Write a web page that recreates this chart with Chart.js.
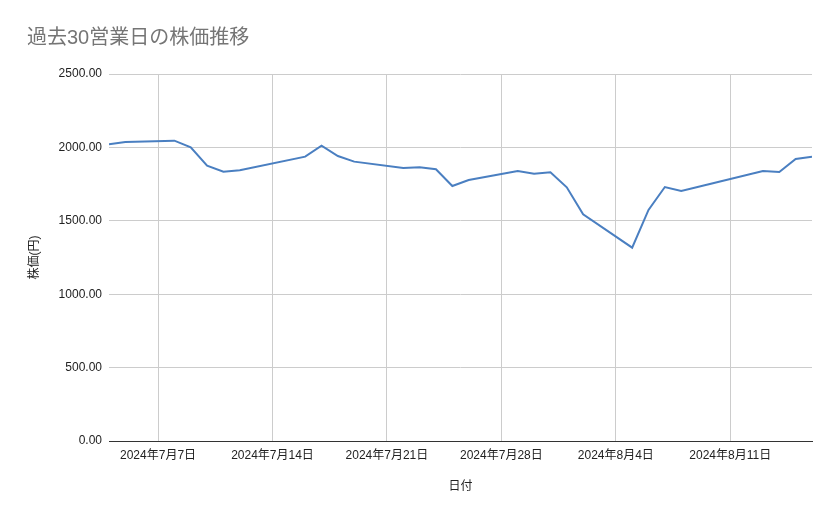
<!DOCTYPE html>
<html>
<head>
<meta charset="utf-8">
<script src="https://cdn.jsdelivr.net/npm/chart.js@4.4.1/dist/chart.umd.min.js"></script>
<style>
  html, body { margin: 0; padding: 0; background: #fff; }
  #wrap { width: 839px; height: 519px; }
</style>
</head>
<body>
<div id="wrap"><canvas id="priceChart" width="839" height="519"></canvas></div>
<script>
// trading days (weekends and JP holidays skipped)
const tradeDates = [
    '2024-07-04', '2024-07-05', '2024-07-08', '2024-07-09', '2024-07-10',
    '2024-07-11', '2024-07-12', '2024-07-16', '2024-07-17', '2024-07-18',
    '2024-07-19', '2024-07-22', '2024-07-23', '2024-07-24', '2024-07-25',
    '2024-07-26', '2024-07-29', '2024-07-30', '2024-07-31', '2024-08-01',
    '2024-08-02', '2024-08-05', '2024-08-06', '2024-08-07', '2024-08-08',
    '2024-08-09', '2024-08-13', '2024-08-14', '2024-08-15', '2024-08-16'
];
const closePrices = [
    2021, 2037, 2046, 2001, 1875,
    1835, 1844, 1937, 2012, 1941,
    1903, 1860, 1864, 1851, 1737,
    1778, 1839, 1821, 1830, 1728,
    1544, 1317, 1574, 1730, 1703,
    1730, 1839, 1832, 1921, 1937
];
const xTickDates = ['2024-07-07', '2024-07-14', '2024-07-21', '2024-07-28', '2024-08-04', '2024-08-11'];
const yTicks = [0, 500, 1000, 1500, 2000, 2500];

function dayNum(s) {
    const p = s.split('-').map(Number);
    return Date.UTC(p[0], p[1] - 1, p[2]) / 86400000;
}
function jpDate(n) {
    const d = new Date(n * 86400000);
    return d.getUTCFullYear() + '年' + (d.getUTCMonth() + 1) + '月' + d.getUTCDate() + '日';
}

const FONT = '"Liberation Sans", Arial, "Noto Sans CJK JP", sans-serif';
Chart.defaults.font.family = FONT;
Chart.defaults.color = '#222';

const points = tradeDates.map((d, i) => ({ x: dayNum(d), y: closePrices[i] }));

new Chart(document.getElementById('priceChart'), {
    type: 'line',
    data: {
        datasets: [{
            label: '株価',
            data: points,
            borderColor: '#4a7fc1',
            borderWidth: 2,
            pointRadius: 0,
            tension: 0,
            fill: false
        }]
    },
    options: {
        responsive: false,
        animation: false,
        devicePixelRatio: 1,
        layout: { padding: { left: 27, right: 27, top: 26, bottom: 21 } },
        plugins: {
            legend: { display: false },
            tooltip: { enabled: false },
            title: {
                display: true,
                text: '過去30営業日の株価推移',
                align: 'start',
                color: '#757575',
                font: { size: 20, weight: 'normal', family: FONT },
                padding: { top: 0, bottom: 24 }
            }
        },
        scales: {
            x: {
                type: 'linear',
                min: dayNum(tradeDates[0]),
                max: dayNum(tradeDates[tradeDates.length - 1]),
                afterBuildTicks: function(axis) {
                    axis.ticks = xTickDates.map(d => ({ value: dayNum(d) }));
                },
                afterFit: function(axis) { axis.height = 57; },
                ticks: {
                    padding: 7,
                    maxRotation: 0,
                    autoSkip: false,
                    font: { size: 12 },
                    callback: function(value) { return jpDate(value); }
                },
                grid: { color: '#cccccc', drawTicks: false },
                border: { display: true, color: '#333333', width: 1 },
                title: {
                    display: true,
                    text: '日付',
                    font: { size: 12 },
                    padding: { top: 17, bottom: 4 }
                }
            },
            y: {
                min: 0,
                max: 2500,
                afterBuildTicks: function(axis) {
                    axis.ticks = yTicks.map(v => ({ value: v }));
                },
                afterFit: function(axis) { axis.width = 82; },
                ticks: {
                    padding: 7,
                    font: { size: 12 },
                    callback: function(value) { return value.toFixed(2); }
                },
                grid: { color: '#cccccc', drawTicks: false },
                border: { display: false },
                title: {
                    display: true,
                    text: '株価(円)',
                    font: { size: 12 },
                    padding: { top: 0, bottom: 0 }
                }
            }
        }
    }
});
</script>
</body>
</html>
